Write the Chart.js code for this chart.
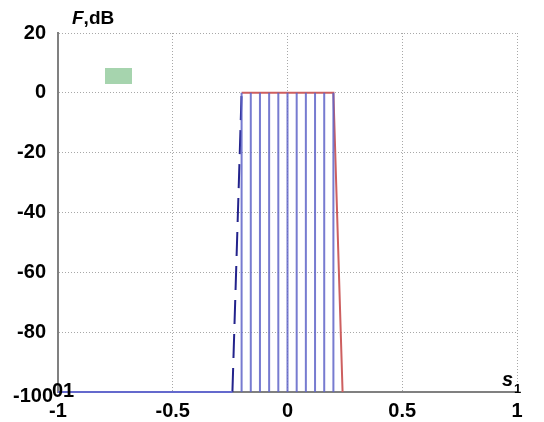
<!DOCTYPE html>
<html>
<head>
<meta charset="utf-8">
<script src="https://cdn.jsdelivr.net/npm/chart.js@4.4.0/dist/chart.umd.min.js"></script>
<style>
  html, body { margin: 0; padding: 0; background: #fff; }
  #wrap { width: 544px; height: 422px; }
</style>
</head>
<body>
<div id="wrap"><canvas id="chart"></canvas></div>
<script>
// Axis ticks
const xTicks = [-1, -0.5, 0, 0.5, 1]
const yTicks = [-100, -80, -60, -40, -20, 0, 20]

// Vertical cell lines (x positions), drawn from -100 dB up to 0 dB
const cellLines = [-0.2, -0.16, -0.12, -0.08, -0.04, 0, 0.04, 0.08, 0.12, 0.16, 0.2]
const floorDb = -100
const topDb = 0

// Left slope (blue) and right slope / top (red)
const leftEdgeX = [-0.24, -0.2]
const leftEdgeY = [-100, 0]
const baseX = [-1, -0.24]
const baseY = [-100, -100]
const redX = [-0.2, 0.2, 0.24]
const redY = [0, 0, -100]

const toPts = (xs, ys) => xs.map((x, i) => ({ x: x, y: ys[i] }))

// one dataset with gaps for all vertical lines
const cellPts = []
cellLines.forEach(x => {
  cellPts.push({ x: x, y: floorDb }, { x: x, y: topDb }, { x: x, y: null })
})

const FAMILY = "Liberation Sans, Arial, sans-serif"
const labelFont = { family: FAMILY, size: 20, weight: "bold" }

const annotations = {
  id: "annotations",
  afterDraw(chart) {
    const { ctx, chartArea } = chart
    ctx.save()
    // small green legend patch
    ctx.fillStyle = "rgba(150, 205, 160, 0.85)"
    ctx.fillRect(chartArea.left + 47, chartArea.top + 35, 27, 16)
    ctx.fillStyle = "#000"
    ctx.textBaseline = "alphabetic"
    // F,dB
    ctx.font = "italic bold 19px " + FAMILY
    ctx.fillText("F", 72, 24)
    const fw = ctx.measureText("F").width
    ctx.font = "bold 19px " + FAMILY
    ctx.fillText(",dB", 72 + fw, 24)
    // s1
    ctx.font = "italic bold 20px " + FAMILY
    ctx.fillText("s", 502, 386)
    ctx.font = "bold 13px " + FAMILY
    ctx.fillText("1", 514, 393)
    // -100 label and stray "01" near origin
    ctx.font = "bold 20px " + FAMILY
    ctx.textAlign = "right"
    ctx.fillText("-100", 53, 402)
    ctx.textAlign = "left"
    ctx.fillText("01", 52, 397)
    ctx.restore()
  }
}

new Chart(document.getElementById("chart"), {
  type: "scatter",
  data: {
    datasets: [
      {
        data: cellPts,
        showLine: true,
        spanGaps: false,
        borderColor: "rgba(95, 100, 200, 0.85)",
        borderWidth: 2,
        pointRadius: 0
      },
      {
        data: toPts(baseX, baseY),
        showLine: true,
        borderColor: "rgb(100, 105, 205)",
        borderWidth: 2,
        pointRadius: 0,
        clip: 4
      },
      {
        data: toPts(redX, redY),
        showLine: true,
        borderColor: "rgb(205, 95, 95)",
        borderWidth: 2,
        pointRadius: 0,
        clip: 4
      },
      {
        data: toPts(leftEdgeX, leftEdgeY),
        showLine: true,
        borderColor: "rgb(35, 35, 140)",
        borderWidth: 2,
        borderDash: [24, 10],
        pointRadius: 0
      }
    ]
  },
  options: {
    responsive: true,
    maintainAspectRatio: false,
    animation: false,
    layout: { padding: { top: 33, right: 27, left: 0, bottom: 0 } },
    plugins: {
      legend: { display: false },
      tooltip: { enabled: false }
    },
    scales: {
      x: {
        type: "linear",
        min: -1,
        max: 1,
        afterBuildTicks: axis => { axis.ticks = xTicks.map(v => ({ value: v })) },
        afterFit: axis => { axis.height = 30 },
        ticks: {
          color: "#000",
          font: labelFont,
          padding: 7,
          callback: v => String(v)
        },
        grid: { color: "#a8a8a8", drawTicks: false, lineWidth: 1 },
        border: { display: true, color: "#808080", width: 2, dash: [1, 2] }
      },
      y: {
        type: "linear",
        min: -100,
        max: 20,
        afterBuildTicks: axis => { axis.ticks = yTicks.map(v => ({ value: v })) },
        afterFit: axis => { axis.width = 58 },
        ticks: {
          color: "#000",
          font: labelFont,
          padding: 12,
          callback: v => (v === -100 ? "" : String(v))
        },
        grid: { color: "#a8a8a8", drawTicks: false, lineWidth: 1 },
        border: { display: true, color: "#808080", width: 2, dash: [1, 2] }
      }
    }
  },
  plugins: [annotations]
})
</script>
</body>
</html>
